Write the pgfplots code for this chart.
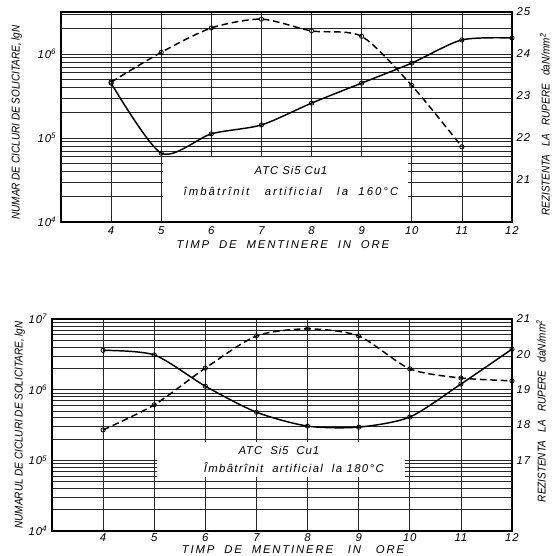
\documentclass[border=0pt]{standalone}
\usepackage{fontspec}
\setmainfont{Liberation Sans}
\newfontfamily\lab[LetterSpace=8]{Liberation Sans}
\newfontfamily\labx[LetterSpace=16]{Liberation Sans}
\newfontfamily\laby[FakeStretch=0.88]{Liberation Sans}
\newfontfamily\boxA[LetterSpace=18]{Liberation Sans}
\newfontfamily\boxB[LetterSpace=12]{Liberation Sans}
\usepackage{pgfplots}
\pgfplotsset{compat=1.18}

% solid: cycles (left, log)   dashed: strength (right, linear)
\pgfplotstableread{
t  N
4  4.5e5
5  6.6e4
6  1.12e5
7  1.43e5
8  2.6e5
9  4.5e5
10 7.8e5
11 1.47e6
12 1.55e6
}\cycA
\pgfplotstableread{
t  R
4  23.33
5  24.04
6  24.62
7  24.83
8  24.55
9  24.42
10 23.25
11 21.79
}\rezA
\pgfplotstableread{
t  N
4  3.6e6
5  3.1e6
6  1.12e6
7  4.8e5
8  3.05e5
9  2.95e5
10 4.1e5
11 1.2e6
12 3.75e6
}\cycB
\pgfplotstableread{
t  R
4  17.86
5  18.57
6  19.61
7  20.52
8  20.72
9  20.52
10 19.59
11 19.33
12 19.25
}\rezB

\tikzset{mylbl/.style={font=\lab\itshape\fontsize{8.5}{10}\selectfont}}
\pgfplotsset{
  mybase/.style={
    scale only axis,
    xmin=3, xmax=12,
    xtick={4,...,12},
    major tick length=0pt, minor tick length=0pt,
    axis line style={line width=1pt},
    ticklabel style={mylbl},
    xlabel style={font=\labx\itshape\fontsize{8.5}{10}\selectfont},
    ylabel style={font=\laby\itshape\fontsize{8.5}{10}\selectfont},
    /pgf/number format/assume math mode=true,
  },
  myleft/.style={
    mybase,
    xmajorgrids, ymajorgrids, yminorgrids,
    grid style={black!85, line width=0.5pt},
    minor grid style={black!85, line width=0.5pt},
    ytick={1e4,1e5,1e6,1e7},
    yticklabels={10\textsuperscript{4},10\textsuperscript{5},10\textsuperscript{6},10\textsuperscript{7}},
    minor ytick={2e4,3e4,4e4,5e4,6e4,7e4,8e4,9e4,2e5,3e5,4e5,5e5,6e5,7e5,8e5,9e5,2e6,3e6,4e6,5e6,6e6,7e6,8e6,9e6},
  },
  myright/.style={
    mybase, axis x line=none, axis y line*=right,
  },
}
\tikzset{
  cur/.style={black, line width=1.1pt, smooth, tension=0.45, mark=o, mark size=1.6pt,
    mark options={solid, fill=white, line width=0.6pt}},
  dsh/.style={cur, dash pattern=on 5pt off 2.8pt},
}

\begin{document}
\begin{tikzpicture}
\useasboundingbox (0,0) rectangle (415.5pt,417pt);

% ---- top chart, 160 C
\begin{semilogyaxis}[myleft, at={(45.75pt,250.5pt)}, anchor=south west,
  width=338.25pt, height=157.5pt,
  ymin=1e4, ymax=3.16e6,
  xlabel={TIMP\ \ DE\ \ MENTINERE\ \ IN\ \ ORE},
  ylabel={NUMAR DE CICLURI DE SOLICITARE, lgN},
  xlabel style={at={(axis description cs:0.492,-0.11)}, anchor=center},
  ylabel style={at={(axis description cs:-0.098,0.474)}, anchor=center},
]
\fill[white] (axis cs:5.04,1.04e4) rectangle (axis cs:9.93,5.94e4);
\addplot[cur] table[x=t, y=N] {\cycA};
\node[mylbl] at (axis cs:7.59,4.16e4) {ATC Si5 Cu1};
\node[font=\boxA\itshape\fontsize{8.5}{10}\selectfont] at (axis cs:7.59,2.34e4) {îmbâtrînit\ \ \ artificial\ \ \ la\ \ 160°C};
\end{semilogyaxis}
\begin{axis}[myright, at={(45.75pt,250.5pt)}, anchor=south west,
  width=338.25pt, height=157.5pt,
  ymin=20, ymax=25, ytick={21,...,25},
  ylabel={REZISTENTA\ \ \ LA\ \ \ RUPERE\ \ \ daN/mm\textsuperscript{2}},
  ylabel style={at={(axis description cs:1.073,0.464)}, anchor=center},
]
\addplot[dsh] table[x=t, y=R] {\rezA};
\end{axis}

% ---- bottom chart, 180 C
\begin{semilogyaxis}[myleft, at={(39pt,18.75pt)}, anchor=south west,
  width=345pt, height=159pt,
  ymin=1e4, ymax=1e7,
  xticklabel style={yshift=1.5pt},
  xlabel={TIMP\ \ DE\ \ MENTINERE\ \ \ IN\ \ \ ORE},
  ylabel={NUMARUL DE CICLURI DE SOLICITARE, lgN},
  xlabel style={at={(axis description cs:0.524,-0.087)}, anchor=center},
  ylabel style={at={(axis description cs:-0.07,0.5)}, anchor=center},
]
\fill[white] (axis cs:5.05,5.8e4) rectangle (axis cs:9.91,1.82e5);
\addplot[cur] table[x=t, y=N] {\cycB};
\node[mylbl] at (axis cs:7.44,1.4e5) {ATC\ \ Si5\ \ Cu1};
\node[font=\boxB\itshape\fontsize{8.5}{10}\selectfont] at (axis cs:7.73,7.8e4) {Îmbâtrînit\ \ artificial\ \ la\ 180°C};
\end{semilogyaxis}
\begin{axis}[myright, at={(39pt,18.75pt)}, anchor=south west,
  width=345pt, height=159pt,
  ymin=15, ymax=21, ytick={17,...,21},
  ylabel={REZISTENTA\ \ \ LA\ \ \ RUPERE\ \ \ daN/mm\textsuperscript{2}},
  ylabel style={at={(axis description cs:1.063,0.566)}, anchor=center},
]
\addplot[dsh] table[x=t, y=R] {\rezB};
\end{axis}
\end{tikzpicture}
\end{document}
